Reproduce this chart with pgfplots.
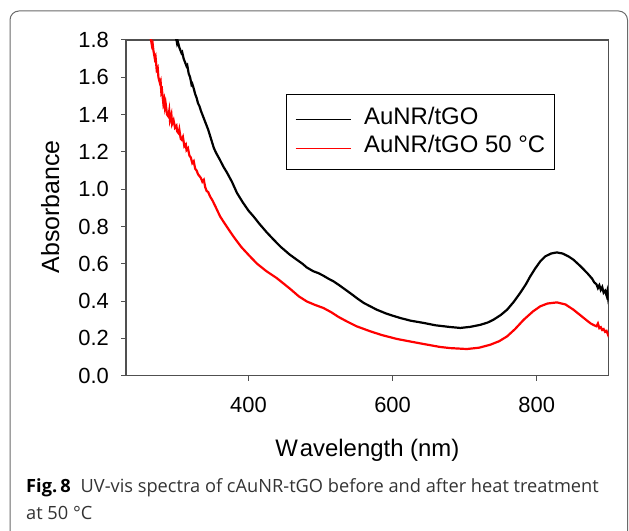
\documentclass[border=0pt]{standalone}
\usepackage{fontspec}
\setmainfont{Liberation Sans}
\newfontfamily\capfont{Open Sans}
\usepackage{pgfplots}
\pgfplotsset{compat=1.18}
\definecolor{framegray}{HTML}{6A6A6A}
\definecolor{axgray}{HTML}{505050}
\definecolor{captext}{HTML}{333333}
\begin{document}
\begin{tikzpicture}[x=1bp,y=1bp]
\path[use as bounding box] (0,0) rectangle (629,531);
\draw[framegray, line width=1bp, rounded corners=9bp] (10,-10) -- (10,520) -- (627.5,520) -- (627.5,-10);
\begin{axis}[
  at={(126bp,155.3bp)}, anchor=south west,
  scale only axis, width=482.7bp, height=335.7bp,
  xmin=230, xmax=900, ymin=0, ymax=1.8,
  xtick={400,600,800}, ytick={0,0.2,0.4,0.6,0.8,1.0,1.2,1.4,1.6,1.8},
  xtick pos=bottom, ytick pos=left, tick align=outside,
  major tick length=5bp,
  tick style={draw=axgray, line width=1bp},
  axis line style={draw=axgray, line width=1.1bp},
  /pgf/number format/assume math mode=true,
  yticklabel={\pgfmathprintnumber[fixed,fixed zerofill,precision=1]{\tick}},
  ticklabel style={font=\fontsize{22}{26}\selectfont, inner sep=0pt},
  yticklabel style={anchor=east, xshift=-12bp},
  xticklabel style={anchor=north, yshift=-16bp},
  xlabel={W\kern2bp avelength (nm)},
  ylabel={Absorbance},
  xlabel style={font=\fontsize{24}{28}\selectfont, at={(axis description cs:0.5,-0.2413)}, anchor=base, inner sep=0pt},
  ylabel style={font=\fontsize{25}{29}\selectfont, at={(axis description cs:-0.1388,0.503)}, anchor=base, inner sep=0pt},
  legend style={at={(0.331,0.839)}, anchor=north west, draw=black, line width=0.8bp,
    font=\fontsize{24}{28}\selectfont, inner xsep=9bp, inner ysep=12bp, row sep=5.3bp,
    nodes={inner sep=0pt, text height=18bp, text depth=5bp},
    /tikz/every odd column/.append style={column sep=13bp}},
  legend cell align=left,
  legend image code/.code={\draw[#1, line width=1bp] (0bp,-2bp) -- (55bp,-2bp);},
]
\addplot[black, line width=2.2bp] coordinates {
(298,1.83) (300,1.80) (301,1.78) (302,1.79) (304,1.76) (305,1.75) (307,1.73) (308,1.735)
(310,1.70) (312,1.68) (314,1.66) (315,1.665) (317,1.62) (319,1.60) (321,1.56) (322,1.565)
(324,1.54) (326,1.51) (328,1.49) (330,1.46) (332,1.445) (334,1.42) (336,1.40) (338,1.38)
(340,1.36) (342,1.34) (344,1.32) (346,1.295) (348,1.27) (350,1.245) (352,1.22) (355,1.195)
(360,1.16) (365,1.122) (370,1.09) (377,1.04) (384,0.98) (392,0.93) (400,0.885)
(407,0.854) (415,0.815) (425,0.77) (435,0.729) (445,0.69) (457,0.65) (467,0.622) (475,0.60)
(481,0.58) (490,0.56) (497,0.55) (504,0.536) (511,0.52) (518,0.506) (526,0.485) (535,0.46)
(545,0.432) (550,0.417) (560,0.39) (570,0.37) (578,0.354) (590,0.335) (600,0.322) (611,0.309)
(625,0.295) (643,0.283) (660,0.27) (680,0.261) (694,0.256) (708,0.262) (722,0.273) (732,0.285)
(740,0.30) (750,0.325) (759,0.354) (768,0.395) (777,0.443) (785,0.49) (791,0.532) (798,0.575)
(805,0.613) (812,0.64) (820,0.655) (828,0.661) (836,0.655) (844,0.64) (851,0.622) (860,0.59)
(870,0.551) (877,0.52) (880,0.50) (883,0.49) (885,0.47) (887,0.485) (889,0.46) (891,0.475)
(893,0.445) (895,0.455) (897,0.43) (898,0.45) (899,0.42) (900,0.44)
};
\addlegendentry{AuNR/tGO}
\addplot[red, line width=2.2bp] coordinates {
(262,1.84) (264.7,1.80) (266,1.77) (267,1.78) (268,1.745) (270,1.70) (271,1.71) (272.6,1.64)
(274,1.65) (275,1.60) (277,1.57) (278,1.58) (279,1.52) (280,1.53) (281.8,1.46) (283,1.48)
(284,1.44) (285,1.46) (287,1.40) (288.8,1.39) (290,1.42) (291,1.37) (293,1.40) (294,1.35)
(296,1.37) (298,1.33) (300,1.34) (301,1.31) (303,1.30) (304,1.32) (306,1.27) (307.3,1.265)
(309,1.28) (311,1.23) (313,1.24) (314,1.21) (316,1.22) (318,1.18) (320,1.17) (322,1.14)
(324,1.15) (326,1.11) (328,1.10) (330,1.08) (332,1.07) (334,1.06) (336,1.04) (338,1.05)
(340,1.01) (342,0.99) (344,0.985) (346.7,0.961) (350,0.94) (355,0.90) (360.6,0.854) (368,0.81)
(379,0.747) (390,0.69) (402,0.64) (412,0.60) (425,0.56) (439,0.524) (450,0.49) (458,0.465)
(470,0.425) (481,0.398) (492,0.38) (504,0.363) (515,0.34) (525,0.315) (536.5,0.291) (550,0.265)
(569,0.238) (585,0.218) (606,0.197) (625,0.183) (643,0.17) (666,0.154) (680,0.148) (703,0.143)
(720,0.150) (735.6,0.166) (748,0.185) (759,0.211) (770,0.25) (782,0.30) (795,0.345) (805,0.372)
(815,0.387) (828,0.393) (840,0.382) (851,0.354) (862,0.32) (870,0.295) (875,0.28) (880,0.27)
(883,0.265) (885,0.28) (887,0.255) (889,0.26) (891,0.245) (893,0.25) (895,0.235) (897,0.24)
(899,0.22) (900,0.23)
};
\addlegendentry{AuNR/tGO 50 °C}
\end{axis}
\node[anchor=base west, inner sep=0pt, font=\capfont\fontsize{18.3}{27}\selectfont, text=captext] at (26,38)
  {\textbf{\color{black}Fig.\,8}\hspace{10bp}UV-vis spectra of cAuNR-tGO before and after heat treatment};
\node[anchor=base west, inner sep=0pt, font=\capfont\fontsize{18.3}{27}\selectfont, text=captext] at (26,11)
  {at 50 °C};
\end{tikzpicture}
\end{document}
